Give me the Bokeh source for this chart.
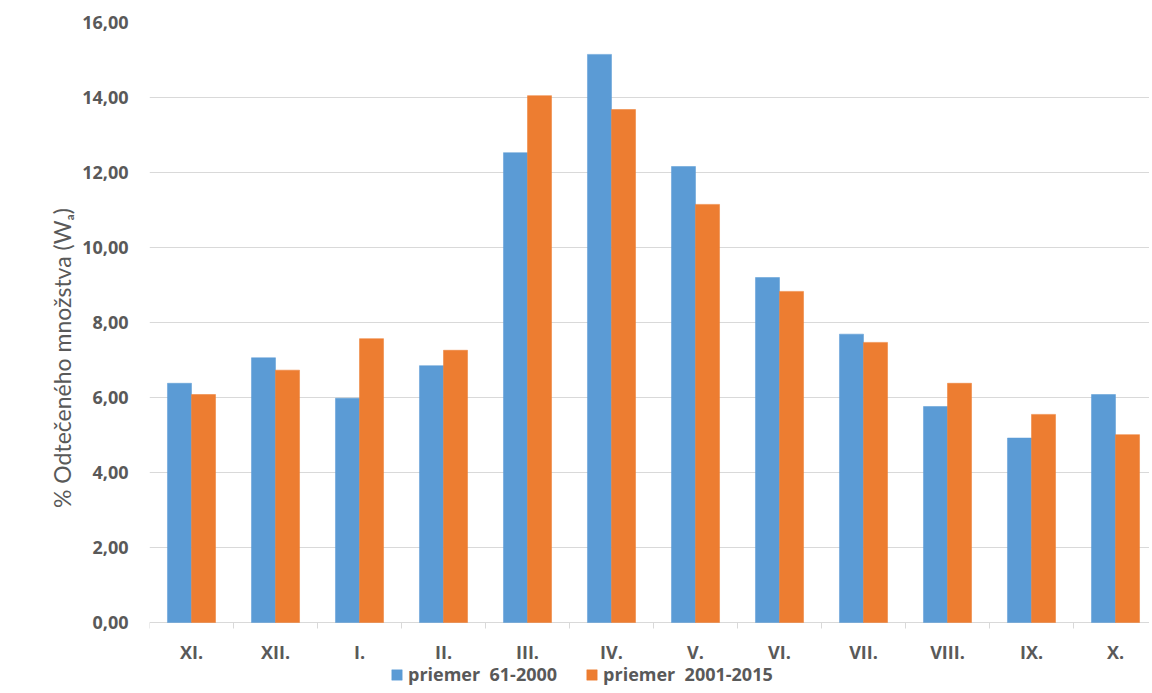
from bokeh.plotting import figure
from bokeh.models import (Range1d, FixedTicker, Legend, LegendItem, ColumnDataSource, Title)
from bokeh.core.properties import value
from bokeh.transform import dodge
from bokeh.embed import file_html
from bokeh.resources import INLINE

months = ["XI.", "XII.", "I.", "II.", "III.", "IV.", "V.", "VI.", "VII.", "VIII.", "IX.", "X."]
series_1961_2000 = [6.38, 7.06, 5.98, 6.85, 12.53, 15.15, 12.16, 9.20, 7.69, 5.76, 4.92, 6.08]
series_2001_2015 = [6.08, 6.73, 7.57, 7.26, 14.05, 13.68, 11.15, 8.83, 7.47, 6.38, 5.55, 5.01]
y_ticks = [0, 2, 4, 6, 8, 10, 12, 14, 16]
y_tick_labels = ["0,00", "2,00", "4,00", "6,00", "8,00", "10,00", "12,00", "14,00", "16,00"]
legend_labels = ["priemer  61-2000", "priemer  2001-2015"]
y_title = "% Odtečeného množstva (Wₐ)"

BLUE = "#5B9BD5"
ORANGE = "#ED7D31"
TXT = "#595959"
GRID = "#d9d9d9"

centers = [i + 0.5 for i in range(len(months))]
bounds = list(range(len(months) + 1))
src = ColumnDataSource(dict(x=centers, a=series_1961_2000, b=series_2001_2015, m=months))

FW, FH = 1000, 671          # frame extends to the bottom of the page
PX = 16 / 600                # data units per pixel on y
p = figure(output_backend="svg", toolbar_location=None,
           frame_width=FW, frame_height=FH,
           x_range=Range1d(0, FW / 84), y_range=Range1d(-71 * PX, 16),
           x_axis_location=None,
           min_border_left=149, min_border_right=0, min_border_top=22, min_border_bottom=0)
p.outline_line_color = None
p.background_fill_color = "white"
p.border_fill_color = "white"

bw = 0.286
r1 = p.vbar(x=dodge("x", -bw / 2, range=p.x_range), top="a", width=bw, bottom=0,
            source=src, fill_color=BLUE, line_color=BLUE, line_width=0.5)
r2 = p.vbar(x=dodge("x", bw / 2, range=p.x_range), top="b", width=bw, bottom=0,
            source=src, fill_color=ORANGE, line_color=ORANGE, line_width=0.5)

# category axis drawn at y = 0: tick marks between categories and labels
p.segment(x0=bounds, y0=[0] * len(bounds), x1=bounds, y1=[-6 * PX] * len(bounds),
          line_color=GRID, line_width=1)
p.text(x="x", y=0, text="m", source=src, y_offset=29,
       text_align="center", text_baseline="middle",
       text_font=value("Open Sans"), text_font_style="bold",
       text_font_size="18px", text_color=TXT)

# y axis
p.yaxis.ticker = FixedTicker(ticks=y_ticks)
p.yaxis.major_label_overrides = {t: l for t, l in zip(y_ticks, y_tick_labels)}
p.yaxis.axis_line_color = None
p.yaxis.major_tick_line_color = None
p.yaxis.minor_tick_line_color = None
p.yaxis.major_tick_out = 0
p.yaxis.major_label_standoff = 21
p.yaxis.major_label_text_font = "Open Sans"
p.yaxis.major_label_text_font_style = "bold"
p.yaxis.major_label_text_font_size = "18px"
p.yaxis.major_label_text_color = TXT

# y axis title, centred on the 0-16 part of the frame
ytitle = Title(text=y_title, align="center", offset=37, standoff=8,
               text_font="Lato", text_font_style="normal",
               text_font_size="23px", text_color=TXT)
p.add_layout(ytitle, "left")

p.xgrid.grid_line_color = None
p.ygrid.ticker = FixedTicker(ticks=y_ticks)
p.ygrid.grid_line_color = GRID
p.ygrid.grid_line_width = 1

legend = Legend(items=[LegendItem(label=legend_labels[0], renderers=[r1]),
                       LegendItem(label=legend_labels[1], renderers=[r2])],
                orientation="horizontal", location=(241, 7),
                glyph_width=13, glyph_height=13, spacing=28, padding=0, margin=0,
                label_standoff=5, label_height=13,
                label_text_font="Open Sans", label_text_font_style="bold",
                label_text_font_size="18px", label_text_color=TXT,
                border_line_color=None, background_fill_alpha=0)
p.add_layout(legend, "center")

open("out.html", "w").write(file_html(p, INLINE))
